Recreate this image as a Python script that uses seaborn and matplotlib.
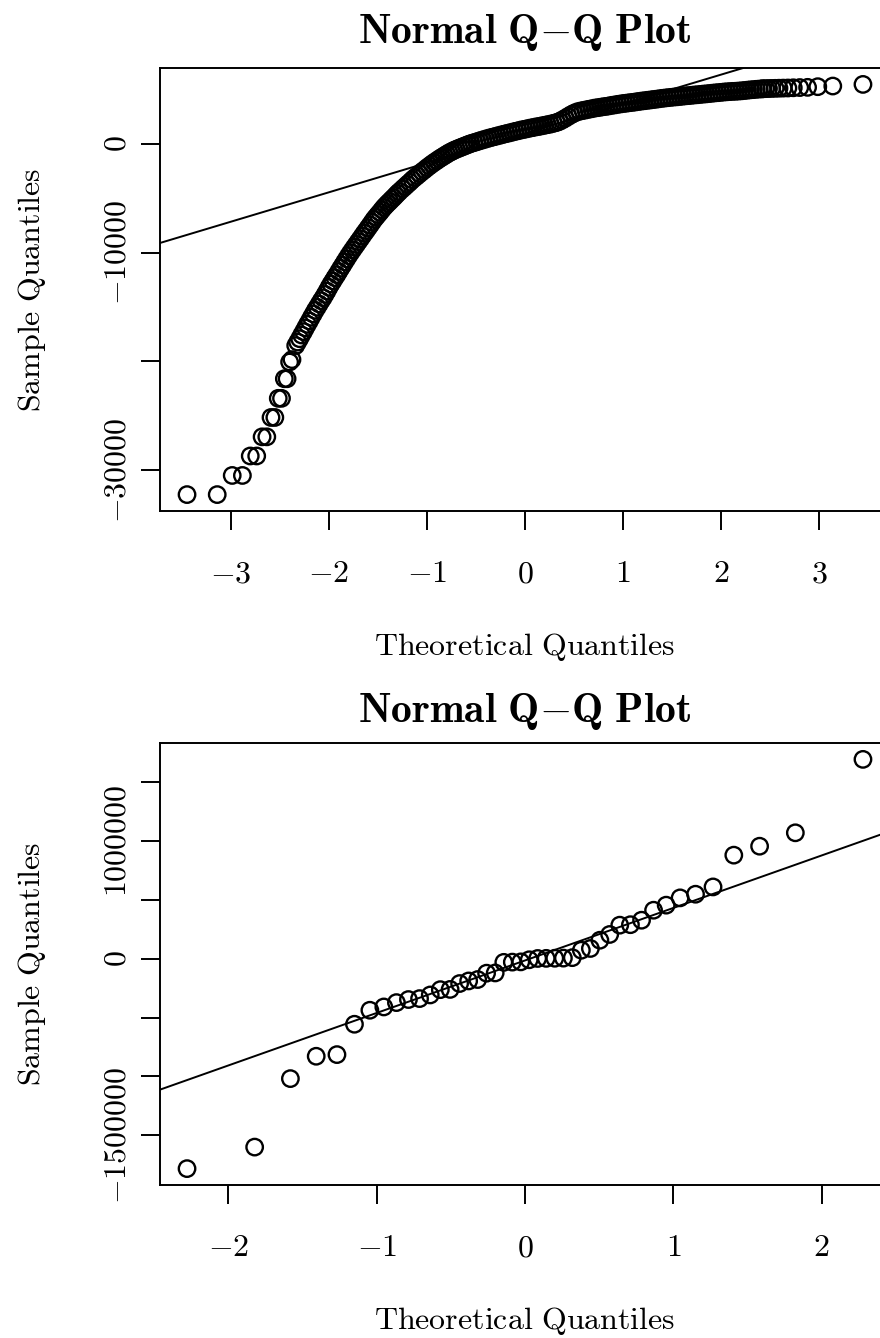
import numpy as np
import matplotlib
matplotlib.use('Agg')
import matplotlib.pyplot as plt
import seaborn as sns

# ---- top panel: normal Q-Q (n ~ 1780, middle of the sample read as a dense band) ----
top_low_theo = [-3.449, -3.141, -2.988, -2.884, -2.804, -2.738, -2.683, -2.635,
                -2.592, -2.553, -2.518, -2.485, -2.456, -2.428, -2.402, -2.378]
top_low_sample = [-32250, -32250, -30490, -30490, -28700, -28700, -26940, -26940,
                  -25160, -25160, -23400, -23400, -21600, -21600, -20060, -19840]

top_band_theo = [
    -2.34, -2.32, -2.30, -2.28, -2.26, -2.24, -2.22, -2.20, -2.18, -2.16,
    -2.14, -2.12, -2.10, -2.08, -2.06, -2.04, -2.02, -2.00, -1.98, -1.96,
    -1.94, -1.92, -1.90, -1.88, -1.86, -1.84, -1.82, -1.80, -1.78, -1.76,
    -1.74, -1.72, -1.70, -1.68, -1.66, -1.64, -1.62, -1.60, -1.58, -1.56,
    -1.54, -1.52, -1.50, -1.48, -1.46, -1.44, -1.42, -1.40, -1.38, -1.36,
    -1.34, -1.32, -1.30, -1.28,
    -1.25, -1.225, -1.20, -1.175, -1.15, -1.125, -1.10, -1.075, -1.05, -1.025,
    -1.00, -0.975, -0.95, -0.925, -0.90, -0.875, -0.85, -0.825, -0.80, -0.775,
    -0.75, -0.725, -0.70, -0.675, -0.65, -0.625, -0.60, -0.575, -0.55,
    -0.52, -0.49, -0.46, -0.43, -0.40, -0.37, -0.34, -0.31, -0.28, -0.25,
    -0.22, -0.19, -0.16, -0.13, -0.10, -0.07, -0.04, -0.01, 0.02, 0.05,
    0.08, 0.11, 0.14, 0.17, 0.20, 0.23, 0.26, 0.29, 0.32, 0.35,
    0.38, 0.41, 0.44, 0.47, 0.50, 0.53, 0.56, 0.59, 0.62, 0.65,
    0.68, 0.71, 0.74, 0.77, 0.80, 0.83, 0.86, 0.89, 0.92, 0.95,
    0.98, 1.01, 1.04, 1.07, 1.10, 1.13, 1.16, 1.19, 1.22, 1.25,
    1.28, 1.31, 1.34, 1.37, 1.40, 1.43, 1.46, 1.49, 1.52, 1.55,
    1.58, 1.61, 1.64, 1.67, 1.70, 1.73, 1.76, 1.79, 1.82, 1.85,
    1.88, 1.91, 1.94, 1.97, 2.00, 2.03, 2.06, 2.09, 2.12, 2.15,
    2.18, 2.21, 2.24, 2.27, 2.30, 2.33, 2.36, 2.39, 2.42]
top_band_sample = [
    -18550, -18230, -17920, -17580, -17270, -16930, -16600, -16290, -15950, -15640,
    -15310, -15030, -14730, -14430, -14160, -13850, -13540, -13200, -12890, -12610,
    -12310, -12040, -11740, -11440, -11160, -10860, -10580, -10290, -10020, -9760,
    -9500, -9250, -8990, -8740, -8480, -8220, -7980, -7720, -7470, -7210,
    -6950, -6730, -6510, -6300, -6070, -5850, -5660, -5470, -5300, -5110,
    -4940, -4750, -4560, -4390,
    -4140, -3940, -3730, -3530, -3310, -3120, -2940, -2750, -2560, -2390,
    -2200, -2030, -1860, -1700, -1550, -1390, -1250, -1110, -970, -830,
    -720, -600, -500, -410, -320, -230, -140, -50, 30,
    110, 190, 280, 360, 440, 520, 590, 660, 730, 800,
    870, 940, 1000, 1070, 1140, 1200, 1270, 1320, 1380, 1440,
    1490, 1550, 1590, 1650, 1700, 1760, 1810, 1880, 1950, 2050,
    2190, 2340, 2510, 2670, 2810, 2930, 3000, 3060, 3110, 3170,
    3220, 3280, 3320, 3360, 3410, 3440, 3490, 3540, 3580, 3630,
    3670, 3710, 3740, 3780, 3810, 3850, 3890, 3930, 3960, 4000,
    4030, 4070, 4100, 4140, 4180, 4210, 4240, 4270, 4300, 4320,
    4350, 4380, 4410, 4430, 4460, 4490, 4510, 4540, 4570, 4590,
    4620, 4650, 4680, 4700, 4730, 4760, 4780, 4800, 4820, 4830,
    4850, 4870, 4900, 4930, 4960, 4980, 5010, 5030, 5050]

top_high_theo = [2.428, 2.456, 2.485, 2.518, 2.553, 2.592, 2.635, 2.683,
                 2.738, 2.804, 2.884, 2.988, 3.141, 3.449]
top_high_sample = [5060, 5070, 5080, 5090, 5100, 5110, 5120, 5130,
                   5150, 5170, 5190, 5250, 5310, 5460]

top_line_intercept = 951
top_line_slope = 2703

top_xticks = [-3, -2, -1, 0, 1, 2, 3]
top_yticks = [-30000, -20000, -10000, 0]
top_ylabels = ['-30000', '', '-10000', '0']

# ---- bottom panel: normal Q-Q, n = 44 ----
bottom_theo = [-2.279, -1.823, -1.582, -1.408, -1.268, -1.150, -1.046, -0.952,
               -0.867, -0.786, -0.711, -0.639, -0.571, -0.505, -0.441, -0.380,
               -0.319, -0.259, -0.201, -0.143, -0.0855, -0.0285,
               0.0285, 0.0855, 0.143, 0.201, 0.259, 0.319, 0.380, 0.441,
               0.505, 0.571, 0.639, 0.711, 0.786, 0.867, 0.952, 1.046,
               1.150, 1.268, 1.408, 1.582, 1.823, 2.279]
bottom_sample = [-1783000, -1600000, -1018000, -828000, -814000, -556000, -437000,
                 -409000, -372000, -346000, -338000, -307000, -262000, -260000,
                 -210000, -188000, -176000, -122000, -120000, -30000, -28000,
                 -26000, -8000, 3000, 4000, 5000, 6000, 10000, 73000, 88000,
                 158000, 207000, 286000, 290000, 328000, 413000, 456000, 518000,
                 549000, 611000, 881000, 957000, 1071000, 1695000]

bottom_xticks = [-2, -1, 0, 1, 2]
bottom_yticks = [-1500000, -1000000, -500000, 0, 500000, 1000000, 1500000]
bottom_ylabels = ['-1500000', '', '', '0', '', '1000000', '']

plt.rcParams['mathtext.fontset'] = 'cm'
plt.rcParams['font.family'] = ['DejaVu Serif']

LW = 1.7


def r_limits(values):
    lo, hi = min(values), max(values)
    pad = 0.04 * (hi - lo)
    return lo - pad, hi + pad


def qq_panel(ax, theo, sample, intercept, slope, xticks, yticks, ylabels, title_y):
    sns.scatterplot(x=theo, y=sample, ax=ax, marker='o', s=140,
                    facecolor='none', edgecolor='black', linewidth=LW, legend=False)
    ax.axline((0, intercept), slope=slope, color='black', linewidth=1.4)
    ax.set_xlim(*r_limits(theo))
    ax.set_ylim(*r_limits(sample))
    ax.set_xticks(xticks)
    ax.set_xticklabels(['$%d$' % v for v in xticks])
    ax.set_yticks(yticks)
    ax.set_yticklabels(['$%s$' % s if s else '' for s in ylabels],
                       rotation=90, va='center')
    ax.tick_params(axis='both', direction='out', length=14, width=1.4, labelsize=23)
    ax.tick_params(axis='x', pad=20)
    ax.tick_params(axis='y', pad=6)
    for sp in ax.spines.values():
        sp.set_linewidth(1.4)
        sp.set_color('black')
    ax.set_title(r'$\mathbf{Normal\ Q{-}Q\ Plot}$', fontsize=30, y=title_y, va='center')
    ax.set_xlabel(r'$\mathrm{Theoretical\ Quantiles}$', fontsize=23)
    ax.set_ylabel(r'$\mathrm{Sample\ Quantiles}$', fontsize=23)
    ax.xaxis.set_label_coords(0.5, -0.307)
    ax.xaxis.label.set_va('center')
    ax.yaxis.set_label_coords(-0.1753, 0.5)
    ax.yaxis.label.set_va('center')


fig = plt.figure(figsize=(8.8, 13.38), dpi=100, facecolor='white')
# axes run past the right edge, as in the cropped original
ax_top = fig.add_axes([160 / 880, 1 - 511 / 1338, 730 / 880, 443 / 1338])
ax_bot = fig.add_axes([160 / 880, 1 - 1185 / 1338, 730 / 880, 442 / 1338])

top_theo = top_low_theo + top_band_theo + top_high_theo
top_sample = top_low_sample + top_band_sample + top_high_sample
qq_panel(ax_top, top_theo, top_sample, top_line_intercept, top_line_slope,
         top_xticks, top_yticks, top_ylabels, 1.063)

# reference line through the quartiles, as qqline does
q1, q3 = np.quantile(bottom_sample, [0.25, 0.75])
z = 0.6745
bot_slope = (q3 - q1) / (2 * z)
bot_intercept = q1 + bot_slope * z
qq_panel(ax_bot, bottom_theo, bottom_sample, bot_intercept, bot_slope,
         bottom_xticks, bottom_yticks, bottom_ylabels, 1.054)

fig.savefig('out.png', dpi=100, facecolor='white')
